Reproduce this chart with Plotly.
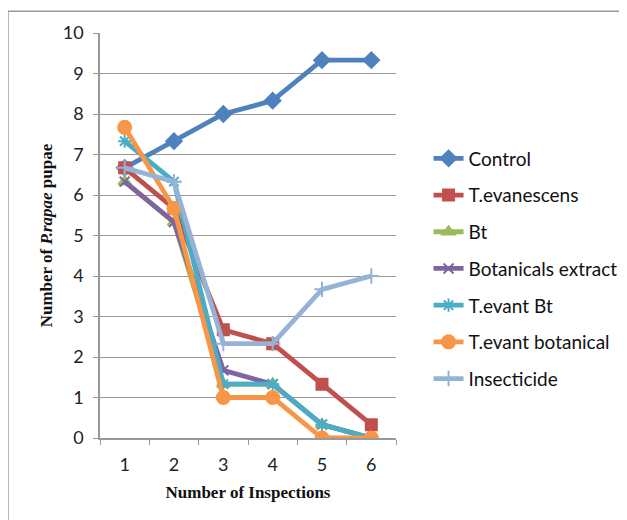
import plotly.graph_objects as go

inspections = ["1", "2", "3", "4", "5", "6"]
control = [6.67, 7.33, 8.0, 8.33, 9.33, 9.33]
t_evanescens = [6.67, 5.67, 2.67, 2.33, 1.33, 0.33]
bt = [6.33, 5.33, 1.33, 1.33, 0.33, 0.0]
botanicals = [6.33, 5.33, 1.67, 1.33, 0.33, 0.0]
t_evant_bt = [7.33, 6.33, 1.33, 1.33, 0.33, 0.0]
t_evant_botanical = [7.67, 5.67, 1.0, 1.0, 0.0, 0.0]
insecticide = [6.67, 6.33, 2.33, 2.33, 3.67, 4.0]

series = [
    ("Control", control, "#4F81BD", "diamond", 12),
    ("T.evanescens", t_evanescens, "#C0504D", "square", 11),
    ("Bt", bt, "#9BBB59", "triangle-up", 11),
    ("Botanicals extract", botanicals, "#8064A2", "x-thin-open", 10),
    ("T.evant Bt", t_evant_bt, "#4BACC6", "asterisk-open", 11),
    ("T.evant botanical", t_evant_botanical, "#F79646", "circle", 13),
    ("Insecticide", insecticide, "#95B3D7", "cross-thin-open", 11),
]

fig = go.Figure()
for name, vals, color, sym, size in series:
    fig.add_trace(go.Scatter(
        x=inspections, y=vals, name=name, mode="lines+markers",
        legendgroup=name,
        line=dict(color=color, width=4.8),
        marker=dict(symbol=sym, size=size, color=color,
                    line=dict(color=color, width=2)),
    ))

fig.update_layout(
    width=627, height=520,
    margin=dict(l=92, r=239, t=25, b=90),
    paper_bgcolor="white", plot_bgcolor="white",
    font=dict(family="Lato, Open Sans, sans-serif", size=18, color="#222"),
    legend=dict(x=1.11, y=0.737, xanchor="left", yanchor="top",
                font=dict(size=19, color="#111"), tracegroupgap=9,
                bgcolor="rgba(0,0,0,0)"),
    xaxis=dict(
        type="category", tickson="boundaries", ticks="outside", ticklen=5,
        tickcolor="#999", showline=True, linecolor="#999", linewidth=1.5,
        showgrid=False, range=[-0.5, 5.5], ticklabelstandoff=10,
        title=dict(text="<b>Number of Inspections</b>",
                   font=dict(family="Liberation Serif", size=17, color="#111"),
                   standoff=12),
    ),
    yaxis=dict(
        range=[0, 10], dtick=1, ticks="outside", ticklen=5, tickcolor="#999",
        showline=True, linecolor="#999", linewidth=1.5, ticklabelstandoff=6,
        showgrid=True, gridcolor="#999", gridwidth=1, zeroline=False,
        title=dict(text="<b>Number of <i>P.rapae</i> pupae</b>",
                   font=dict(family="Liberation Serif", size=17, color="#111"),
                   standoff=6),
    ),
    shapes=[dict(type="rect", xref="paper", yref="paper",
                 x0=-0.311, x1=1.9, y0=-0.3, y1=1.054,
                 line=dict(color="#999", width=1.5), layer="below")],
)
fig.write_html("out.html")
